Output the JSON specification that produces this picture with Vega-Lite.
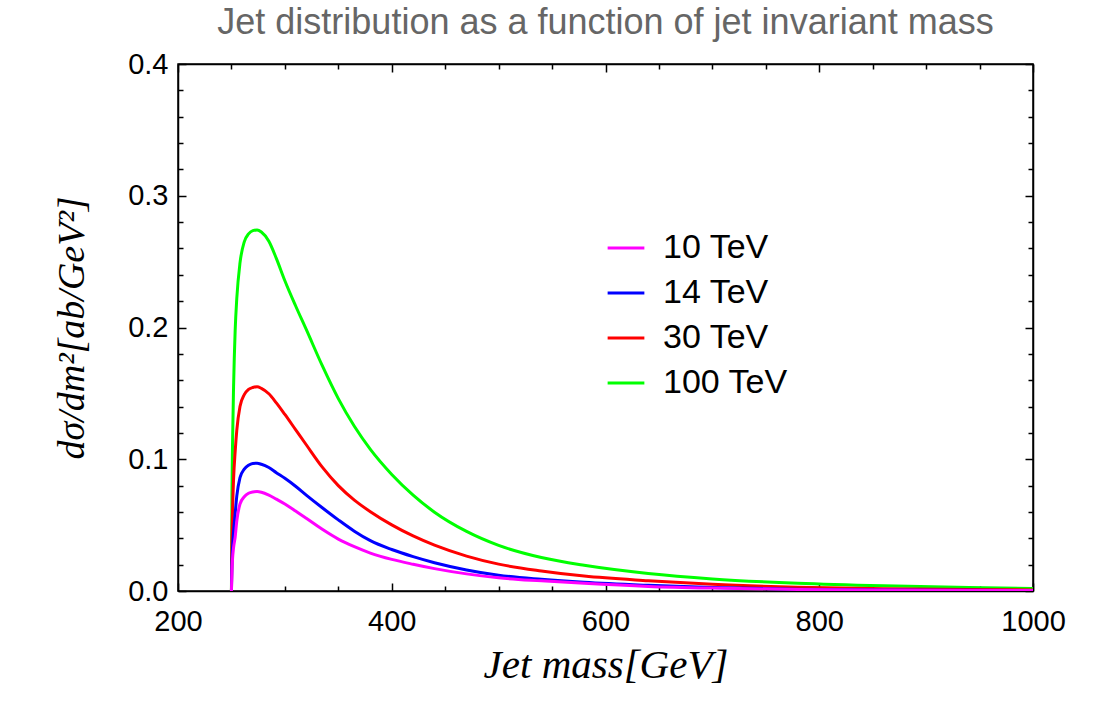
{
  "$schema": "https://vega.github.io/schema/vega-lite/v6.json",
  "autosize": "none",
  "width": 855,
  "height": 527,
  "padding": {"left": 178, "top": 64, "right": 64, "bottom": 110},
  "background": "white",
  "config": {"view": {"stroke": "black", "strokeWidth": 1.5}},
  "title": {"text": "Jet distribution as a function of jet invariant mass", "font": "Liberation Sans", "fontSize": 36, "fontWeight": "normal", "color": "#666666", "anchor": "middle", "baseline": "alphabetic", "offset": 29, "dy": 49},
  "data": {"values": [
    {"m":250,"v":0,"e":"100 TeV"},{"m":250.5,"v":0.075,"e":"100 TeV"},{"m":251,"v":0.11,"e":"100 TeV"},{"m":252,"v":0.155,"e":"100 TeV"},{"m":253.5,"v":0.198,"e":"100 TeV"},{"m":255,"v":0.222,"e":"100 TeV"},{"m":258,"v":0.249,"e":"100 TeV"},{"m":262,"v":0.265,"e":"100 TeV"},{"m":266,"v":0.271,"e":"100 TeV"},{"m":270,"v":0.2735,"e":"100 TeV"},{"m":274,"v":0.274,"e":"100 TeV"},{"m":278,"v":0.2725,"e":"100 TeV"},{"m":285,"v":0.2655,"e":"100 TeV"},{"m":292,"v":0.2525,"e":"100 TeV"},{"m":300,"v":0.2355,"e":"100 TeV"},{"m":310,"v":0.2165,"e":"100 TeV"},{"m":320,"v":0.1985,"e":"100 TeV"},{"m":335,"v":0.171,"e":"100 TeV"},{"m":350,"v":0.146,"e":"100 TeV"},{"m":365,"v":0.125,"e":"100 TeV"},{"m":380,"v":0.1075,"e":"100 TeV"},{"m":400,"v":0.0885,"e":"100 TeV"},{"m":420,"v":0.0728,"e":"100 TeV"},{"m":440,"v":0.0598,"e":"100 TeV"},{"m":470,"v":0.0452,"e":"100 TeV"},{"m":500,"v":0.0346,"e":"100 TeV"},{"m":540,"v":0.0254,"e":"100 TeV"},{"m":580,"v":0.0195,"e":"100 TeV"},{"m":640,"v":0.0133,"e":"100 TeV"},{"m":700,"v":0.0092,"e":"100 TeV"},{"m":780,"v":0.0059,"e":"100 TeV"},{"m":860,"v":0.0039,"e":"100 TeV"},{"m":940,"v":0.0026,"e":"100 TeV"},{"m":1000,"v":0.0019,"e":"100 TeV"},
    {"m":250,"v":0,"e":"30 TeV"},{"m":250.5,"v":0.04,"e":"30 TeV"},{"m":251,"v":0.06,"e":"30 TeV"},{"m":252,"v":0.085,"e":"30 TeV"},{"m":253.5,"v":0.106,"e":"30 TeV"},{"m":255,"v":0.122,"e":"30 TeV"},{"m":258,"v":0.14,"e":"30 TeV"},{"m":262,"v":0.149,"e":"30 TeV"},{"m":266,"v":0.153,"e":"30 TeV"},{"m":270,"v":0.1545,"e":"30 TeV"},{"m":274,"v":0.155,"e":"30 TeV"},{"m":278,"v":0.1538,"e":"30 TeV"},{"m":285,"v":0.1497,"e":"30 TeV"},{"m":292,"v":0.1428,"e":"30 TeV"},{"m":300,"v":0.134,"e":"30 TeV"},{"m":310,"v":0.1225,"e":"30 TeV"},{"m":320,"v":0.111,"e":"30 TeV"},{"m":335,"v":0.094,"e":"30 TeV"},{"m":350,"v":0.08,"e":"30 TeV"},{"m":365,"v":0.069,"e":"30 TeV"},{"m":380,"v":0.0602,"e":"30 TeV"},{"m":400,"v":0.0502,"e":"30 TeV"},{"m":420,"v":0.0418,"e":"30 TeV"},{"m":440,"v":0.0348,"e":"30 TeV"},{"m":470,"v":0.0265,"e":"30 TeV"},{"m":500,"v":0.0204,"e":"30 TeV"},{"m":540,"v":0.0152,"e":"30 TeV"},{"m":580,"v":0.0113,"e":"30 TeV"},{"m":640,"v":0.0078,"e":"30 TeV"},{"m":700,"v":0.0051,"e":"30 TeV"},{"m":780,"v":0.0029,"e":"30 TeV"},{"m":860,"v":0.0018,"e":"30 TeV"},{"m":940,"v":0.0011,"e":"30 TeV"},{"m":1000,"v":0.0008,"e":"30 TeV"},
    {"m":250,"v":0,"e":"14 TeV"},{"m":250.5,"v":0.022,"e":"14 TeV"},{"m":251,"v":0.032,"e":"14 TeV"},{"m":252,"v":0.045,"e":"14 TeV"},{"m":253.5,"v":0.059,"e":"14 TeV"},{"m":255,"v":0.072,"e":"14 TeV"},{"m":258,"v":0.086,"e":"14 TeV"},{"m":262,"v":0.0925,"e":"14 TeV"},{"m":266,"v":0.0955,"e":"14 TeV"},{"m":270,"v":0.0968,"e":"14 TeV"},{"m":274,"v":0.097,"e":"14 TeV"},{"m":278,"v":0.0962,"e":"14 TeV"},{"m":285,"v":0.0937,"e":"14 TeV"},{"m":292,"v":0.0898,"e":"14 TeV"},{"m":300,"v":0.0855,"e":"14 TeV"},{"m":310,"v":0.0795,"e":"14 TeV"},{"m":320,"v":0.0728,"e":"14 TeV"},{"m":335,"v":0.0632,"e":"14 TeV"},{"m":350,"v":0.054,"e":"14 TeV"},{"m":365,"v":0.0454,"e":"14 TeV"},{"m":380,"v":0.0382,"e":"14 TeV"},{"m":400,"v":0.0315,"e":"14 TeV"},{"m":420,"v":0.0261,"e":"14 TeV"},{"m":440,"v":0.0215,"e":"14 TeV"},{"m":470,"v":0.016,"e":"14 TeV"},{"m":500,"v":0.012,"e":"14 TeV"},{"m":540,"v":0.0089,"e":"14 TeV"},{"m":580,"v":0.0066,"e":"14 TeV"},{"m":640,"v":0.0043,"e":"14 TeV"},{"m":700,"v":0.0026,"e":"14 TeV"},{"m":780,"v":0.0014,"e":"14 TeV"},{"m":860,"v":0.0008,"e":"14 TeV"},{"m":940,"v":0.0005,"e":"14 TeV"},{"m":1000,"v":0.0003,"e":"14 TeV"},
    {"m":250,"v":0,"e":"10 TeV"},{"m":250.5,"v":0.016,"e":"10 TeV"},{"m":251,"v":0.024,"e":"10 TeV"},{"m":252,"v":0.033,"e":"10 TeV"},{"m":253.5,"v":0.041,"e":"10 TeV"},{"m":255,"v":0.053,"e":"10 TeV"},{"m":258,"v":0.066,"e":"10 TeV"},{"m":262,"v":0.0715,"e":"10 TeV"},{"m":266,"v":0.0742,"e":"10 TeV"},{"m":270,"v":0.0752,"e":"10 TeV"},{"m":274,"v":0.0755,"e":"10 TeV"},{"m":278,"v":0.075,"e":"10 TeV"},{"m":285,"v":0.0728,"e":"10 TeV"},{"m":292,"v":0.0697,"e":"10 TeV"},{"m":300,"v":0.066,"e":"10 TeV"},{"m":310,"v":0.0607,"e":"10 TeV"},{"m":320,"v":0.0552,"e":"10 TeV"},{"m":335,"v":0.0468,"e":"10 TeV"},{"m":350,"v":0.0394,"e":"10 TeV"},{"m":365,"v":0.0336,"e":"10 TeV"},{"m":380,"v":0.0288,"e":"10 TeV"},{"m":400,"v":0.024,"e":"10 TeV"},{"m":420,"v":0.0203,"e":"10 TeV"},{"m":440,"v":0.017,"e":"10 TeV"},{"m":470,"v":0.013,"e":"10 TeV"},{"m":500,"v":0.01,"e":"10 TeV"},{"m":540,"v":0.0077,"e":"10 TeV"},{"m":580,"v":0.0058,"e":"10 TeV"},{"m":640,"v":0.0035,"e":"10 TeV"},{"m":700,"v":0.0022,"e":"10 TeV"},{"m":780,"v":0.0012,"e":"10 TeV"},{"m":860,"v":0.0007,"e":"10 TeV"},{"m":940,"v":0.0004,"e":"10 TeV"},{"m":1000,"v":0.0003,"e":"10 TeV"}
  ]},
  "layer": [
    {
      "mark": {"type": "line", "strokeWidth": 3, "interpolate": "monotone", "clip": true},
      "encoding": {
        "x": {"field": "m", "type": "quantitative", "scale": {"domain": [200, 1000], "nice": false, "zero": false},
          "axis": {"orient": "bottom", "values": [200,250,300,350,400,450,500,550,600,650,700,750,800,850,900,950,1000], "format": "d",
            "labelExpr": "datum.value % 200 === 0 ? datum.label : ''",
            "tickSize": {"condition": {"test": "datum.value % 200 === 0", "value": -8}, "value": -5},
            "tickWidth": 1.5, "tickColor": "black", "domainColor": "black", "domainWidth": 1.5, "grid": false,
            "labelFont": "Liberation Sans", "labelFontSize": 29, "labelColor": "black", "labelPadding": 24, "labelFlush": false, "labelOverlap": false,
            "title": "Jet mass[GeV]", "titleFont": "Liberation Serif", "titleFontStyle": "italic", "titleFontWeight": "normal", "titleFontSize": 41, "titleColor": "black", "titlePadding": 6}},
        "y": {"field": "v", "type": "quantitative", "scale": {"domain": [0, 0.4], "nice": false},
          "axis": {"orient": "left", "values": [0,0.02,0.04,0.06,0.08,0.1,0.12,0.14,0.16,0.18,0.2,0.22,0.24,0.26,0.28,0.3,0.32,0.34,0.36,0.38,0.4],
            "labelExpr": "abs(datum.value*10 - round(datum.value*10)) < 0.000001 ? format(datum.value, '.1f') : ''",
            "tickSize": {"condition": {"test": "abs(datum.value*10 - round(datum.value*10)) < 0.000001", "value": -8}, "value": -5},
            "tickWidth": 1.5, "tickColor": "black", "domainColor": "black", "domainWidth": 1.5, "grid": false,
            "labelFont": "Liberation Sans", "labelFontSize": 29, "labelColor": "black", "labelPadding": 18, "labelFlush": false, "labelOverlap": false,
            "title": "dσ/dm²[ab/GeV²]", "titleFont": "Liberation Serif", "titleFontStyle": "italic", "titleFontWeight": "normal", "titleFontSize": 38, "titleColor": "black", "titlePadding": 36}},
        "color": {"field": "e", "type": "nominal",
          "scale": {"domain": ["10 TeV", "14 TeV", "30 TeV", "100 TeV"], "range": ["#ff00ff", "#0000ff", "#ff0000", "#00ff00"]},
          "legend": {"orient": "none", "legendX": 428, "legendY": 164, "title": null, "symbolType": "stroke", "symbolSize": 1350, "symbolStrokeWidth": 3,
            "labelFont": "Liberation Sans", "labelFontSize": 34, "labelColor": "black", "labelOffset": 17, "rowPadding": 8, "padding": 0}}
      }
    },
    {
      "mark": {"type": "line", "strokeOpacity": 0, "clip": true},
      "encoding": {
        "detail": {"field": "e", "type": "nominal"},
        "x": {"field": "m", "type": "quantitative",
          "axis": {"orient": "top", "values": [200,250,300,350,400,450,500,550,600,650,700,750,800,850,900,950,1000], "labels": false, "title": null, "minExtent": 0, "maxExtent": 0,
            "tickSize": {"condition": {"test": "datum.value % 200 === 0", "value": -8}, "value": -5},
            "tickWidth": 1.5, "tickColor": "black", "domainColor": "black", "domainWidth": 1.5, "grid": false}},
        "y": {"field": "v", "type": "quantitative",
          "axis": {"orient": "right", "values": [0,0.02,0.04,0.06,0.08,0.1,0.12,0.14,0.16,0.18,0.2,0.22,0.24,0.26,0.28,0.3,0.32,0.34,0.36,0.38,0.4], "labels": false, "title": null, "minExtent": 0, "maxExtent": 0,
            "tickSize": {"condition": {"test": "abs(datum.value*10 - round(datum.value*10)) < 0.000001", "value": -8}, "value": -5},
            "tickWidth": 1.5, "tickColor": "black", "domainColor": "black", "domainWidth": 1.5, "grid": false}}
      }
    }
  ],
  "resolve": {"axis": {"x": "independent", "y": "independent"}}
}
